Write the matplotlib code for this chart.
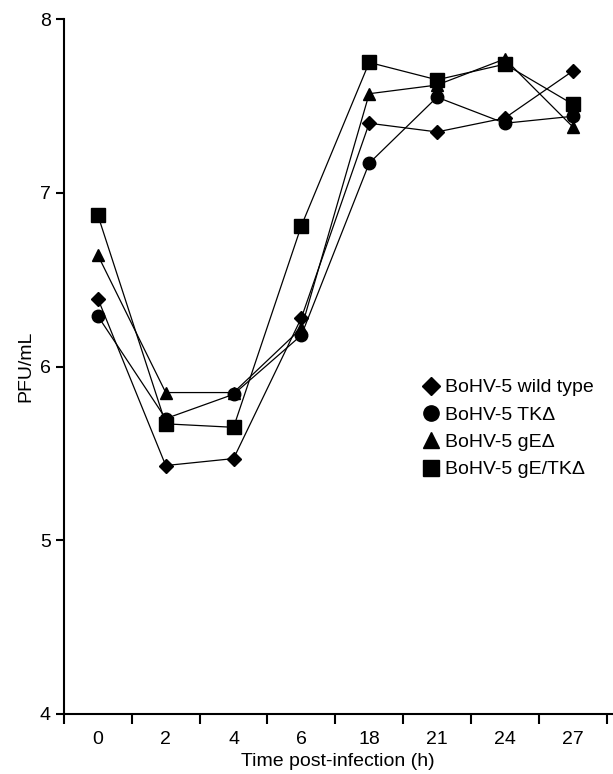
"""BoHV-5 growth curves: PFU/mL over time post-infection."""

import matplotlib
matplotlib.use("Agg")
import matplotlib.pyplot as plt
from matplotlib.lines import Line2D
import numpy as np

plt.rcParams.update({
    "font.family": "sans-serif",
    "font.sans-serif": ["Liberation Sans", "Arial", "DejaVu Sans"],
    "font.size": 14,
    "axes.linewidth": 1.5,
    "axes.spines.top": False,
    "axes.spines.right": False,
    "xtick.major.width": 1.5,
    "ytick.major.width": 1.5,
    "xtick.major.size": 7,
    "ytick.major.size": 6,
})

# time points (categorical, evenly spaced)
hours = ["0", "2", "4", "6", "18", "21", "24", "27"]

wild_type = [6.39, 5.43, 5.47, 6.28, 7.40, 7.35, 7.43, 7.70]
tk_del = [6.29, 5.70, 5.84, 6.18, 7.17, 7.55, 7.40, 7.44]
ge_del = [6.64, 5.85, 5.85, 6.22, 7.57, 7.62, 7.77, 7.38]
ge_tk_del = [6.87, 5.67, 5.65, 6.81, 7.75, 7.65, 7.74, 7.51]

labels = ["BoHV-5 wild type", "BoHV-5 TK\u0394", "BoHV-5 gE\u0394", "BoHV-5 gE/TK\u0394"]
markers = ["D", "o", "^", "s"]
sizes = [7, 9, 9, 9.5]


def chart_growth():
    fig = plt.figure(figsize=(6.13, 7.74), dpi=100)
    ax = fig.add_axes([64 / 613, 1 - 714 / 774, 548 / 613, 695 / 774])

    x = np.arange(len(hours))
    series = [wild_type, tk_del, ge_del, ge_tk_del]
    for vals, m, ms in zip(series, markers, sizes):
        ax.plot(x, vals, color="black", linewidth=0.9, marker=m, markersize=ms,
                markerfacecolor="black", markeredgecolor="black")

    ax.set_xlim(-0.5, 7.58)
    ax.set_ylim(4, 8)
    ax.set_yticks([4, 5, 6, 7, 8])

    # ticks sit between categories, labels centred on categories
    ax.set_xticks(np.arange(-0.5, 8, 1))
    ax.set_xticklabels([])
    ax.set_xticks(x, minor=True)
    ax.set_xticklabels(hours, minor=True)
    ax.tick_params(axis="x", which="minor", length=0, pad=12)

    ax.set_xlabel("Time post-infection (h)", labelpad=4)
    ax.set_ylabel("PFU/mL", labelpad=4)

    handles = [Line2D([], [], linestyle="none", marker=m, markersize=ms + 2,
                      color="black") for m, ms in zip(markers, sizes)]
    fig.legend(handles, labels, loc="upper left", frameon=False,
               bbox_to_anchor=(413 / 613, 1 - 369 / 774), borderpad=0,
               handlelength=0.8, handletextpad=0.35, labelspacing=0.5)

    fig.savefig("out.png", dpi=100)
    plt.close(fig)


if __name__ == "__main__":
    chart_growth()
